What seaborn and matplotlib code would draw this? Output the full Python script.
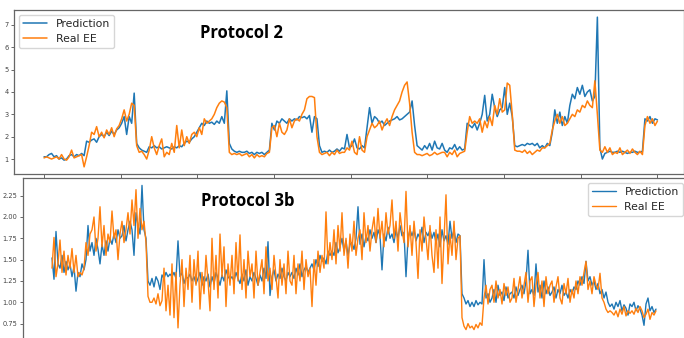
import numpy as np
import pandas as pd
import matplotlib
matplotlib.use("Agg")
import matplotlib.pyplot as plt
import seaborn as sns

# ---- Protocol 2: predicted vs measured energy expenditure ----
p2_prediction = [
    1.1, 1.1, 1.2, 1.25, 1.1, 1.15, 1.0, 1.05, 0.95, 1.0,
    1.15, 1.2, 1.1, 1.2, 1.15, 1.25, 1.15, 1.8, 1.75, 1.85,
    1.9, 1.75, 2.0, 2.1, 2.0, 2.2, 2.05, 2.25, 2.1, 2.3,
    2.4, 2.6, 2.9, 2.1, 2.9, 2.6, 3.95, 1.7, 1.5, 1.4,
    1.35, 1.3, 1.55, 1.5, 1.6, 1.5, 1.55, 1.45, 1.5, 1.55,
    1.5, 1.45, 1.55, 1.5, 1.6, 1.55, 1.7, 1.8, 1.75, 1.9,
    2.0, 2.2, 2.4, 2.6, 2.5, 2.7, 2.6, 2.65, 2.55, 2.7,
    2.6, 2.9, 2.6, 4.05, 1.7, 1.45, 1.35, 1.3, 1.35, 1.3,
    1.3, 1.35, 1.25, 1.3, 1.2, 1.3, 1.25, 1.3, 1.2, 1.3,
    1.4, 2.6, 2.3, 2.7, 2.6, 2.8, 2.7, 2.6, 2.8, 2.7,
    2.8, 2.75, 2.9, 2.85, 2.9, 2.8, 2.95, 2.2, 2.9, 2.8,
    1.6, 1.3, 1.35, 1.3, 1.4, 1.3, 1.35, 1.45, 1.35, 1.5,
    1.45, 2.1, 1.5, 1.6, 1.9, 1.5, 1.45, 1.6, 1.5, 2.4,
    3.3, 2.6, 2.9, 2.8, 2.6, 2.7, 2.5, 2.6, 2.7, 2.75,
    2.8, 2.9, 2.75, 2.8, 2.9, 3.0, 3.1, 3.6, 2.5, 1.6,
    1.5, 1.4, 1.6, 1.45, 1.7, 1.4, 1.8, 1.5, 1.45, 1.7,
    1.4, 1.3, 1.5, 1.45, 1.65, 1.4, 1.55, 1.4, 1.45, 2.6,
    2.5, 2.4, 2.6, 2.3, 2.6, 3.0, 3.85, 2.7, 3.0, 3.9,
    3.3, 2.9, 3.2, 3.3, 4.2, 3.0, 3.5, 2.9, 1.6, 1.55,
    1.6, 1.65, 1.6, 1.7, 1.65, 1.7, 1.6, 1.7, 1.5, 1.6,
    1.5, 1.7, 1.6, 2.2, 3.2, 2.6, 3.1, 2.5, 2.9, 2.6,
    3.4, 3.9, 3.7, 4.2, 3.9, 4.3, 3.8, 4.0, 4.1, 3.6,
    3.8, 7.35, 1.5, 1.0, 1.25, 1.3, 1.35, 1.3, 1.3, 1.35,
    1.3, 1.35, 1.3, 1.25, 1.3, 1.3, 1.35, 1.3, 1.3, 1.35,
    2.8, 2.7, 2.9, 2.6, 2.8, 2.75,
]
p2_real = [
    1.05, 1.1, 1.05, 1.0, 1.05, 1.1, 1.0, 1.2, 1.0, 0.95,
    1.1, 1.4, 1.05, 1.1, 1.15, 1.2, 0.65, 1.1, 1.6, 2.2,
    2.1, 2.45, 2.0, 2.2, 1.95, 2.3, 2.1, 2.4, 2.0, 2.35,
    2.5, 2.8, 3.2, 2.7, 3.0, 3.5, 3.4, 1.6, 1.3, 1.35,
    1.2, 1.0, 1.4, 2.0, 1.5, 1.2, 1.6, 1.9, 1.1, 1.3,
    1.2, 1.7, 1.3, 2.5, 1.5, 2.3, 1.6, 2.0, 1.7, 2.1,
    2.2, 2.0, 2.4, 2.1, 2.8, 2.6, 2.7, 2.8, 3.0, 3.3,
    3.5, 3.6, 3.55, 3.3, 1.3, 1.2, 1.25, 1.2, 1.25, 1.15,
    1.2, 1.25, 1.1, 1.2, 1.05, 1.2, 1.1, 1.15, 1.1, 1.25,
    1.3, 2.4, 2.5, 2.0, 2.6, 2.2, 2.1, 2.3, 2.8, 2.4,
    2.7, 2.8, 2.7, 3.0, 3.2, 3.7, 3.8, 3.8, 3.75, 2.0,
    1.3, 1.2, 1.25, 1.3, 1.15, 1.3, 1.2, 1.4, 1.25, 1.3,
    1.3, 1.5, 1.4, 1.8, 1.3, 1.2, 2.0, 1.4, 1.3, 2.0,
    2.3, 2.6, 2.4, 2.5, 2.7, 2.3, 2.6, 2.8, 2.5, 2.9,
    3.2, 3.4, 3.6, 4.0, 4.3, 4.45, 3.5, 2.2, 1.3, 1.2,
    1.2, 1.15, 1.2, 1.25, 1.15, 1.2, 1.3, 1.2, 1.25, 1.3,
    1.3, 1.1, 1.3, 1.2, 1.4, 1.1, 1.25, 1.3, 1.35, 2.2,
    2.9, 2.6, 2.7, 2.6, 2.8, 2.2, 2.7, 2.4, 2.9, 2.5,
    3.4, 3.0, 3.7, 3.1, 3.2, 4.4, 4.3, 3.0, 1.4, 1.35,
    1.35, 1.3, 1.4, 1.25, 1.35, 1.2, 1.3, 1.4, 1.35, 1.5,
    1.5, 1.6, 1.7, 2.3, 2.7, 3.0, 2.6, 2.9, 2.5, 2.6,
    2.8, 3.0, 2.9, 3.2, 3.1, 3.4, 3.3, 3.6, 3.4, 3.3,
    4.5, 3.0, 1.4, 1.3, 1.55, 1.3, 1.5, 1.2, 1.3, 1.25,
    1.5, 1.2, 1.3, 1.4, 1.25, 1.45, 1.3, 1.2, 1.35, 1.2,
    2.5, 2.9, 2.6, 2.8, 2.5, 2.7,
]

# ---- Protocol 3b ----
p3_prediction = [
    1.52, 1.27, 1.83, 1.45, 1.40, 1.55, 1.35, 1.48, 1.38, 1.45,
    1.30, 1.42, 1.13, 1.35, 1.30, 1.45, 1.38, 1.50, 1.90, 1.60,
    1.70, 1.55, 1.75, 1.62, 1.45, 1.68, 1.55, 1.72, 1.60, 1.75,
    1.68, 1.80, 1.70, 1.85, 1.75, 1.78, 1.90, 1.72, 1.85, 1.95,
    1.85, 1.55, 2.05, 1.90, 1.80, 2.37, 1.85, 1.75, 1.25, 1.20,
    1.28, 1.18, 1.30, 1.25, 1.15, 1.32, 1.28, 1.35, 1.30, 1.33,
    1.30, 1.35, 1.28, 1.72, 1.30, 1.35, 1.22, 1.30, 1.28, 1.33,
    1.25, 1.30, 1.22, 1.28, 1.35, 1.20, 1.30, 1.25, 1.33, 1.18,
    1.30, 1.22, 1.35, 1.28, 1.20, 1.32, 1.25, 1.38, 1.30, 1.27,
    1.30, 1.25, 1.35, 1.28, 1.22, 1.33, 1.25, 1.38, 1.20, 1.30,
    1.25, 1.35, 1.28, 1.20, 1.32, 1.25, 1.40, 1.28, 1.71, 1.08,
    1.30, 1.38, 1.25, 1.33, 1.28, 1.40, 1.30, 1.25, 1.35, 1.30,
    1.35, 1.28, 1.40, 1.32, 1.45, 1.30, 1.38, 1.42, 1.35, 1.40,
    1.45, 1.38, 1.50, 1.42, 1.55, 1.48, 1.52, 1.45, 1.60, 1.55,
    1.60, 1.55, 1.70, 1.58, 1.65, 1.75, 1.60, 1.72, 1.55, 1.68,
    1.70, 1.62, 1.75, 2.12, 1.68, 1.80, 1.65, 1.78, 1.72, 1.85,
    1.75, 1.82, 1.70, 1.85, 1.78, 1.38, 1.80, 1.72, 1.88, 1.75,
    1.80, 1.70, 1.85, 1.75, 1.90, 1.78, 1.82, 1.30, 1.75, 1.85,
    1.78, 1.85, 1.72, 1.80, 1.75, 1.88, 1.70, 1.82, 1.78, 1.85,
    1.75, 1.82, 1.70, 1.80, 1.65, 1.85, 1.72, 1.78, 1.68, 1.95,
    1.75, 1.85, 1.70, 1.80, 1.78, 1.10, 1.05, 0.98, 1.02, 0.95,
    1.00, 0.95, 1.02, 0.97, 1.00, 0.98, 1.50, 1.05, 1.10, 1.00,
    1.05, 1.15, 1.00, 1.20, 1.08, 1.12, 1.02, 1.18, 1.05, 1.10,
    1.12, 1.05, 1.18, 1.08, 1.15, 1.20, 1.10, 1.25, 1.61, 1.10,
    1.15, 1.08, 1.45, 1.12, 1.20, 1.05, 1.25, 1.10, 1.18, 1.08,
    1.12, 1.18, 1.05, 1.15, 1.10, 1.20, 1.08, 1.12, 1.05, 1.15,
    1.10, 1.18, 1.15, 1.25, 1.20, 1.30, 1.22, 1.48, 1.25, 1.30,
    1.20, 1.25, 1.15, 1.22, 1.10, 1.15, 1.05, 1.12, 1.00, 0.95,
    0.98, 0.92, 1.00, 0.95, 1.02, 0.90, 0.97, 0.93, 0.85, 0.98,
    0.95, 1.00, 0.90, 0.96, 0.92, 0.85, 0.73, 0.98, 1.05, 0.90,
    0.95, 0.88, 0.92,
]
p3_real = [
    1.40, 1.76, 1.30, 1.45, 1.73, 1.35, 1.60, 1.32, 1.55, 1.40,
    1.63, 1.35, 1.55, 1.30, 1.35, 1.32, 1.40, 1.70, 1.55, 1.80,
    1.85, 2.00, 1.60, 1.75, 2.12, 1.65, 1.90, 1.55, 1.80, 1.70,
    2.07, 1.75, 1.85, 1.50, 1.80, 1.95, 1.70, 1.85, 2.05, 1.80,
    2.20, 1.90, 2.32, 1.75, 2.10, 1.85, 1.95, 1.70, 1.07, 1.00,
    1.00, 1.05, 0.98, 1.10, 0.96, 1.02, 1.40, 0.90, 1.20, 0.85,
    1.45, 0.82, 1.35, 0.70, 1.20, 1.50, 0.95, 1.40, 1.15, 1.55,
    1.00, 1.50, 1.20, 1.60, 0.92, 1.35, 1.10, 1.55, 1.25, 0.90,
    1.75, 1.15, 1.55, 1.05, 1.80, 1.30, 1.65, 0.95, 1.45, 1.20,
    1.55, 1.10, 1.70, 1.25, 1.79, 1.15, 1.50, 1.05, 1.60, 1.30,
    1.45, 1.05, 1.60, 1.20, 1.35, 1.50, 1.10, 1.65, 1.25, 1.40,
    1.15, 1.55, 1.30, 1.05, 1.50, 1.20, 1.45, 1.10, 1.60, 1.25,
    1.20, 1.55, 1.10, 1.45, 1.25, 1.60, 1.15, 1.50, 1.30, 1.40,
    0.95, 1.50, 1.20, 1.60, 1.35, 1.55, 1.40, 2.06, 1.45, 1.70,
    1.50, 1.85, 1.45, 1.90, 1.60, 2.05, 1.55, 1.75, 1.40, 1.80,
    1.60, 1.95, 1.55, 1.75, 1.85, 1.50, 2.05, 1.70, 1.90, 1.60,
    1.85, 2.00, 1.70, 2.10, 1.75, 1.95, 1.65, 2.05, 1.80, 1.90,
    2.20, 1.75, 1.95, 1.60, 2.05, 1.85, 1.70, 2.30, 1.65, 1.90,
    1.55, 1.95, 1.70, 1.28, 1.85, 1.60, 2.00, 1.75, 1.50, 1.90,
    1.55, 1.35, 1.85, 1.40, 2.00, 1.22, 1.75, 2.26, 1.45, 1.80,
    1.55, 1.95, 1.50, 1.75, 1.78, 0.82, 0.72, 0.68, 0.75, 0.70,
    0.72, 0.68, 0.74, 0.70, 0.76, 0.73, 1.05, 1.20, 0.98, 1.15,
    1.20, 1.00, 1.25, 1.05, 1.15, 0.98, 1.22, 1.08, 1.18, 1.00,
    1.05, 1.28, 1.00, 1.15, 1.30, 1.05, 1.20, 1.35, 1.00, 1.25,
    1.30, 0.95, 1.20, 1.35, 1.05, 1.25, 0.95, 1.30, 1.10, 1.20,
    1.25, 1.00, 1.18, 1.30, 1.05, 0.98, 1.22, 1.10, 1.28, 1.00,
    1.15, 1.05, 1.25, 1.10, 1.30, 1.20, 1.35, 1.48, 1.15, 1.25,
    1.10, 1.30, 1.20, 1.15, 1.34, 1.05, 1.00, 0.92, 0.88, 0.90,
    0.88, 0.85, 0.90, 0.83, 0.92, 0.86, 0.95, 0.84, 0.90, 0.87,
    0.90, 0.86, 0.93, 0.88, 0.95, 0.90, 0.82, 0.86, 0.92, 0.80,
    0.88, 0.85, 0.90,
]

series_names = ["Prediction", "Real EE"]
colors = ["#1f77b4", "#ff7f0e"]
p2_yticks = [1, 2, 3, 4, 5, 6, 7]
p3_yticks = [0.75, 1.00, 1.25, 1.50, 1.75, 2.00, 2.25]


def long_frame(pred, real):
    n = len(pred)
    return pd.DataFrame({
        "t": np.concatenate([np.arange(n), np.arange(len(real))]),
        "value": np.concatenate([pred, real]),
        "series": [series_names[0]] * n + [series_names[1]] * len(real),
    })


sns.set_style("ticks")
plt.rcParams["font.family"] = ["DejaVu Sans"]

W, H = 684, 338
fig = plt.figure(figsize=(W / 100, H / 100), dpi=100)


def px_axes(left, top, right, bottom):
    return fig.add_axes([left / W, 1 - bottom / H, (right - left) / W, (bottom - top) / H])


def style_axes(ax):
    for s in ax.spines.values():
        s.set_color("#666666")
        s.set_linewidth(0.9)
    ax.tick_params(axis="both", colors="#666666", labelcolor="#444444",
                   labelsize=4.8, length=2.5, width=0.7, pad=1.5)
    ax.set_xlabel("")
    ax.set_ylabel("")


# Top panel: Protocol 2
ax1 = px_axes(14, 10, 684, 174)
sns.lineplot(data=long_frame(p2_prediction, p2_real), x="t", y="value",
             hue="series", hue_order=series_names, palette=colors,
             estimator=None, linewidth=1.1, ax=ax1)
n2 = len(p2_prediction)
ax1.set_xlim(-12, 255.6)
ax1.set_ylim(0.33, 7.67)
ax1.set_yticks(p2_yticks)
ax1.set_xticks(np.linspace(0, n2 - 1, 9))
ax1.set_xticklabels([])
style_axes(ax1)
ax1.tick_params(axis="x", length=4)
ax1.legend(loc="upper left", fontsize=7.8, handlelength=2.2,
           borderaxespad=0.45, labelspacing=0.45, framealpha=0.8,
           edgecolor="#cccccc")
ax1.text(0.278, 0.86, "Protocol 2", transform=ax1.transAxes,
         fontsize=12, fontweight="bold", family="Open Sans",
         ha="left", va="center", color="black")

# Bottom panel: Protocol 3b
ax2 = px_axes(23, 178, 690, 341)
sns.lineplot(data=long_frame(p3_prediction, p3_real), x="t", y="value",
             hue="series", hue_order=series_names, palette=colors,
             estimator=None, linewidth=1.0, ax=ax2)
ax2.set_xlim(-14.5, 319)
ax2.set_ylim(2.457 - 163 / 85.3, 2.457)
ax2.set_yticks(p3_yticks)
ax2.set_yticklabels([f"{v:.2f}" for v in p3_yticks])
ax2.set_xticks([])
style_axes(ax2)
ax2.legend(loc="upper right", fontsize=7.8, handlelength=2.2,
           bbox_to_anchor=((683 - 23) / (690 - 23), 0.97),
           borderaxespad=0.0, labelspacing=0.45, framealpha=0.8,
           edgecolor="#cccccc")
ax2.text(0.267, 0.86, "Protocol 3b", transform=ax2.transAxes,
         fontsize=12, fontweight="bold", family="Open Sans",
         ha="left", va="center", color="black")

fig.savefig("out.png", dpi=100)
